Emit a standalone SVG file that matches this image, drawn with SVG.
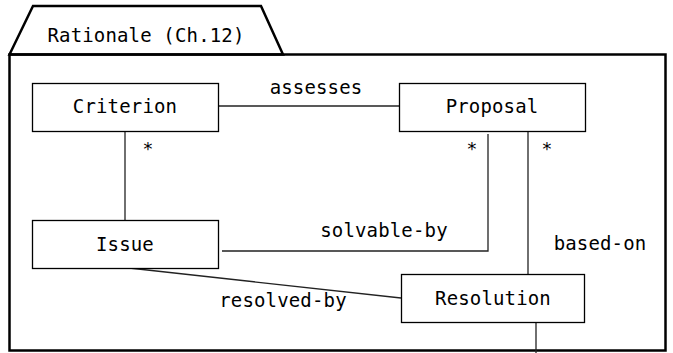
<svg xmlns="http://www.w3.org/2000/svg" width="673" height="353" viewBox="0 0 673 353">
<style>
.frame{fill:none;stroke:#000;stroke-width:2.5}
.box{fill:#fff;stroke:#000;stroke-width:1.3}
.conn{fill:none;stroke:#222;stroke-width:1.3}
text{font-family:"DejaVu Sans Mono","Liberation Mono",monospace;font-size:19px;letter-spacing:0.15px;fill:#000}
.c{text-anchor:middle}
.m{font-size:18px}
</style>
<rect x="0" y="0" width="673" height="353" fill="#fff"/>
<g id="package">
<polygon class="frame" points="9.5,54.5 33,6 261,6 283,54.5" fill="#fff"/>
<rect class="frame" x="9.5" y="54.5" width="656" height="296"/>
<text class="c" x="146" y="42">Rationale (Ch.12)</text>
</g>
<g id="connectors">
<line class="conn" x1="218" y1="106" x2="399" y2="106"/>
<line class="conn" x1="125" y1="131" x2="125" y2="221"/>
<polyline class="conn" points="222,251 488,251 488,134"/>
<line class="conn" x1="528" y1="131" x2="528" y2="275"/>
<line class="conn" x1="129" y1="268" x2="401" y2="298"/>
<line class="conn" x1="536" y1="323" x2="536" y2="353"/>
<text class="c" x="316" y="94">assesses</text>
<text class="c" x="384" y="237">solvable-by</text>
<text class="c" x="600" y="250">based-on</text>
<text class="c" x="283" y="307">resolved-by</text>
<text class="c m" x="148" y="155">*</text>
<text class="c m" x="472" y="155">*</text>
<text class="c m" x="547" y="155">*</text>
</g>
<g id="criterion">
<rect class="box" x="32.5" y="83.5" width="186" height="48"/>
<text class="c" x="125" y="113">Criterion</text>
</g>
<g id="proposal">
<rect class="box" x="399.5" y="83.5" width="186" height="48"/>
<text class="c" x="492" y="113">Proposal</text>
</g>
<g id="issue">
<rect class="box" x="32.5" y="220.5" width="186" height="48"/>
<text class="c" x="125" y="251">Issue</text>
</g>
<g id="resolution">
<rect class="box" x="401.5" y="274.5" width="183" height="48"/>
<text class="c" x="493" y="305">Resolution</text>
</g>
</svg>
